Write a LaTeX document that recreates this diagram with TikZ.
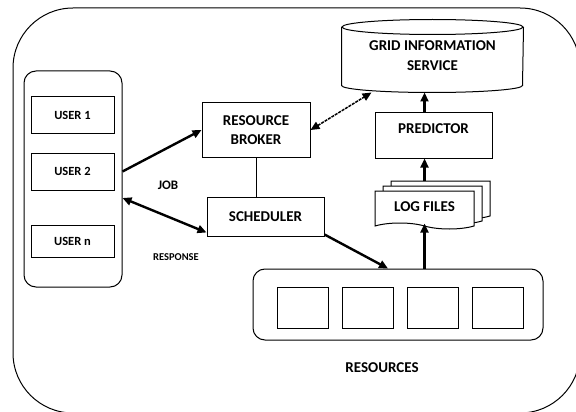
\documentclass[tikz,border=0pt]{standalone}
\usepackage{fontspec}
\setmainfont{Carlito}
\usetikzlibrary{arrows.meta,positioning,shapes.symbols,shadows}

\newcommand{\fs}[1]{\bfseries\fontsize{#1}{#1}\selectfont}

\begin{document}
\begin{tikzpicture}[x=1pt,y=-1pt,line width=1pt,font=\fs{15},
        box/.style={draw,rectangle,inner sep=0pt,align=center},
        resbox/.style={draw,rectangle,minimum width=51pt,minimum height=41pt},
        flow/.style={-{Triangle[length=9pt,width=8pt]},line width=2.4pt},
        node distance=65pt]

  \useasboundingbox (0,0) rectangle (576,412);
  \draw[rounded corners=60pt] (13,8) rectangle (580,413);

  % users
  \node[box,rounded corners=12pt,minimum width=98pt,minimum height=216pt] (users) at (73,179) {};
  \node[box,minimum width=83pt,minimum height=36pt,font=\fs{12.5}] (u1) at (72.5,115) {USER 1};
  \node[box,minimum width=83pt,minimum height=37pt,font=\fs{12.5}] (u2) at (72.5,171.5) {USER 2};
  \node[box,minimum width=83pt,minimum height=32pt,font=\fs{12.5}] (un) at (72.5,241) {USER n};

  % broker and scheduler
  \node[box,minimum width=108pt,minimum height=54pt] (rb) at (256,130) {RESOURCE\\[4pt]BROKER};
  \node[box,minimum width=117pt,minimum height=39pt] (sch) at (265.5,216.5) {SCHEDULER};

  % grid information service
  \node[inner sep=0pt,minimum width=181pt,minimum height=72pt,align=center] (gis) at (432.5,56) {GRID INFORMATION\\[5pt]SERVICE};
  \draw ([yshift=-7.5pt]gis.north) ellipse [x radius=90.5pt,y radius=7.5pt];
  \draw ([yshift=-7.5pt]gis.north west) -- ([yshift=7pt]gis.south west)
        arc[start angle=180,end angle=360,x radius=90.5pt,y radius=7pt]
        -- ([yshift=-7.5pt]gis.north east);

  \node[box,minimum width=117pt,minimum height=46pt,text height=10pt,text depth=14pt] (pr) at (433.5,135) {PREDICTOR};

  % log files
  \node[draw,fill=white,tape,tape bend top=none,tape bend bottom=out and in,tape bend height=6pt,
        minimum width=99pt,minimum height=38pt,
        copy shadow={shadow xshift=16pt,shadow yshift=10pt},
        copy shadow={shadow xshift=8pt,shadow yshift=5pt}] (lf) at (424.5,207) {LOG FILES};

  % resources
  \node[box,rounded corners=12pt,minimum width=290pt,minimum height=71pt] (res) at (398,304.5) {};
  \node[resbox] (r1) at (302.5,307.5) {};
  \node[resbox] (r2) [right of=r1] {};
  \node[resbox] (r3) [right of=r2] {};
  \node[resbox] (r4) [right of=r3] {};
  \node (rl) at (382,368) {RESOURCES};

  \node[font=\fs{13}] (job) at (168,185) {JOB};
  \node[font=\fs{10.5}] (resp) at (176,257) {RESPONSE};

  \draw[flow] (users.east |- u2) -- (rb.west);
  \draw[flow,{Triangle[length=9pt,width=8pt]}-{Triangle[length=9pt,width=8pt]}] ([yshift=-19pt]users.east) -- ([yshift=4pt]sch.south west);
  \draw[line width=1.5pt,dash pattern=on 3pt off 1pt,{Triangle[length=9pt,width=8pt]}-{Triangle[length=9pt,width=8pt]}] (rb.east) -- ([xshift=30pt]gis.south west);
  \draw (rb.south) -- (rb.south |- sch.north);
  \draw[flow] ([yshift=2pt]sch.south east) -- ([xshift=-10pt]res.north);
  \draw[flow] (lf.south |- res.north) -- (lf.south);
  \draw[flow] ([yshift=10pt]lf.north) -- (lf.north |- pr.south);
  \draw[flow] (lf.north |- pr.north) -- (lf.north |- gis.south);

\end{tikzpicture}
\end{document}
